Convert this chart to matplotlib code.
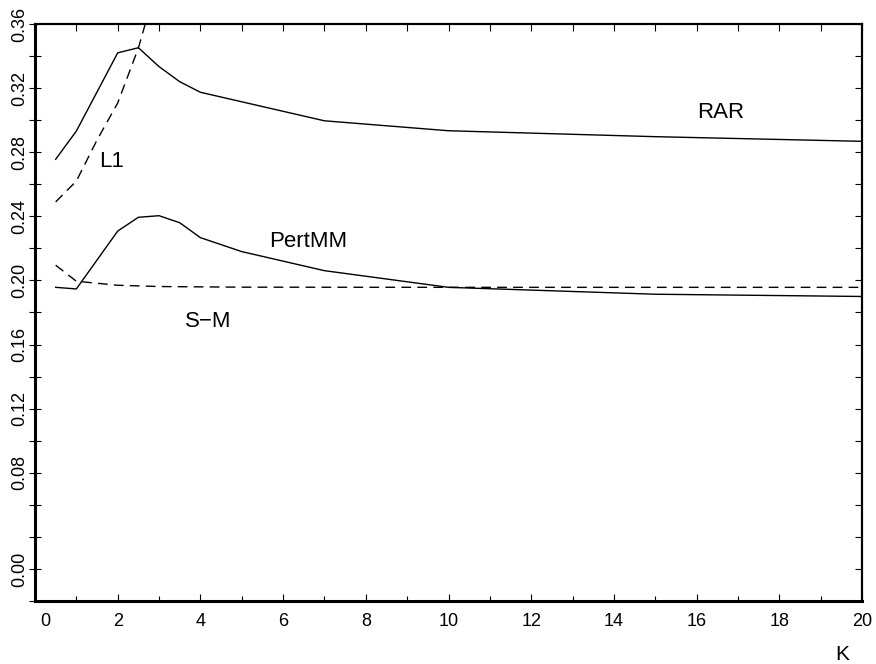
import numpy as np
import matplotlib
matplotlib.use('Agg')
import matplotlib.pyplot as plt
import matplotlib.transforms as mtransforms
from matplotlib.ticker import MultipleLocator, NullFormatter

plt.rcParams['font.family'] = ['Liberation Sans', 'DejaVu Sans']

# error curves against K
k_rar = [0.5, 1, 2, 2.5, 3, 3.5, 4, 7, 10, 15, 20]
rar = [0.2756, 0.2932, 0.342, 0.3452, 0.3334, 0.324, 0.3174, 0.2996, 0.2934, 0.2897, 0.2868]

k_pert = [0.5, 1, 2, 2.5, 3, 3.5, 4, 5, 7, 10, 15, 20]
pertmm = [0.1957, 0.1947, 0.2308, 0.2394, 0.2404, 0.2360, 0.2267, 0.2180, 0.2061, 0.1957, 0.1914, 0.1900]

k_l1 = [0.5, 1, 1.5, 2, 2.5, 3]
l1 = [0.249, 0.262, 0.2876, 0.3107, 0.345, 0.39]

k_sm = [0.5, 1, 2, 3, 5, 10, 15, 20]
sm = [0.2095, 0.1995, 0.197, 0.1962, 0.1958, 0.1957, 0.1957, 0.1957]

x_ticks = list(range(0, 21, 2))
y_tick_pos = [0.02, 0.08, 0.12, 0.16, 0.20, 0.24, 0.28, 0.32, 0.36]
y_tick_labels = ['0.00', '0.08', '0.12', '0.16', '0.20', '0.24', '0.28', '0.32', '0.36']

fig = plt.figure(figsize=(8.76, 6.64), dpi=100)
ax = fig.add_axes([35 / 876, 63 / 664, 827 / 876, 577 / 664])

dash = (0, (7, 4.5))
ax.plot(k_rar, rar, color='black', lw=1.0)
ax.plot(k_pert, pertmm, color='black', lw=1.0)
ax.plot(k_l1, l1, color='black', lw=1.0, linestyle=dash)
ax.plot(k_sm, sm, color='black', lw=1.0, linestyle=dash)

ax.set_xlim(0, 20)
ax.set_ylim(0, 0.36)

ax.text(16.59, 0.3045, 'RAR', fontsize=16, ha='center', va='center')
ax.text(1.84, 0.2745, 'L1', fontsize=16, ha='center', va='center')
ax.text(6.60, 0.2246, 'PertMM', fontsize=16, ha='center', va='center')
ax.text(4.18, 0.1741, 'S\u2212M', fontsize=16, ha='center', va='center')
ax.text(0.976, -0.092, 'K', fontsize=15, ha='center', va='center', transform=ax.transAxes)

# x axis: labels every 2, ticks every 1, pointing inward
ax.set_xticks(x_ticks, [str(v) for v in x_ticks])
ax.xaxis.set_minor_locator(MultipleLocator(1))
ax.tick_params(axis='x', which='major', direction='in', length=5, width=0.8, pad=8.4, labelsize=13)
ax.tick_params(axis='x', which='minor', direction='in', length=3.8, width=0.8)
first = ax.get_xticklabels()[0]
first.set_transform(first.get_transform() + mtransforms.ScaledTranslation(0.10, 0, fig.dpi_scale_trans))

# y axis: rotated labels, ticks crossing the spine
ax.set_yticks(y_tick_pos, y_tick_labels)
ax.yaxis.set_minor_locator(MultipleLocator(0.02))
ax.tick_params(axis='y', which='both', direction='inout', length=8, width=0.8)
ax.tick_params(axis='y', which='major', pad=0.5, labelsize=13, labelrotation=90)
for lab in ax.get_yticklabels():
    lab.set_va('center')

# inward ticks on the top and right edges
top = ax.secondary_xaxis('top')
top.xaxis.set_major_locator(MultipleLocator(1))
top.xaxis.set_major_formatter(NullFormatter())
top.tick_params(direction='in', length=5, width=0.8)
right = ax.secondary_yaxis('right')
right.yaxis.set_major_locator(MultipleLocator(0.02))
right.yaxis.set_major_formatter(NullFormatter())
right.tick_params(direction='in', length=5, width=0.8)

for side in ['left', 'bottom']:
    ax.spines[side].set_linewidth(2.2)
for side in ['top', 'right']:
    ax.spines[side].set_linewidth(1.5)
top.spines['top'].set_linewidth(1.5)
right.spines['right'].set_linewidth(1.5)

fig.savefig('out.png', dpi=100)
